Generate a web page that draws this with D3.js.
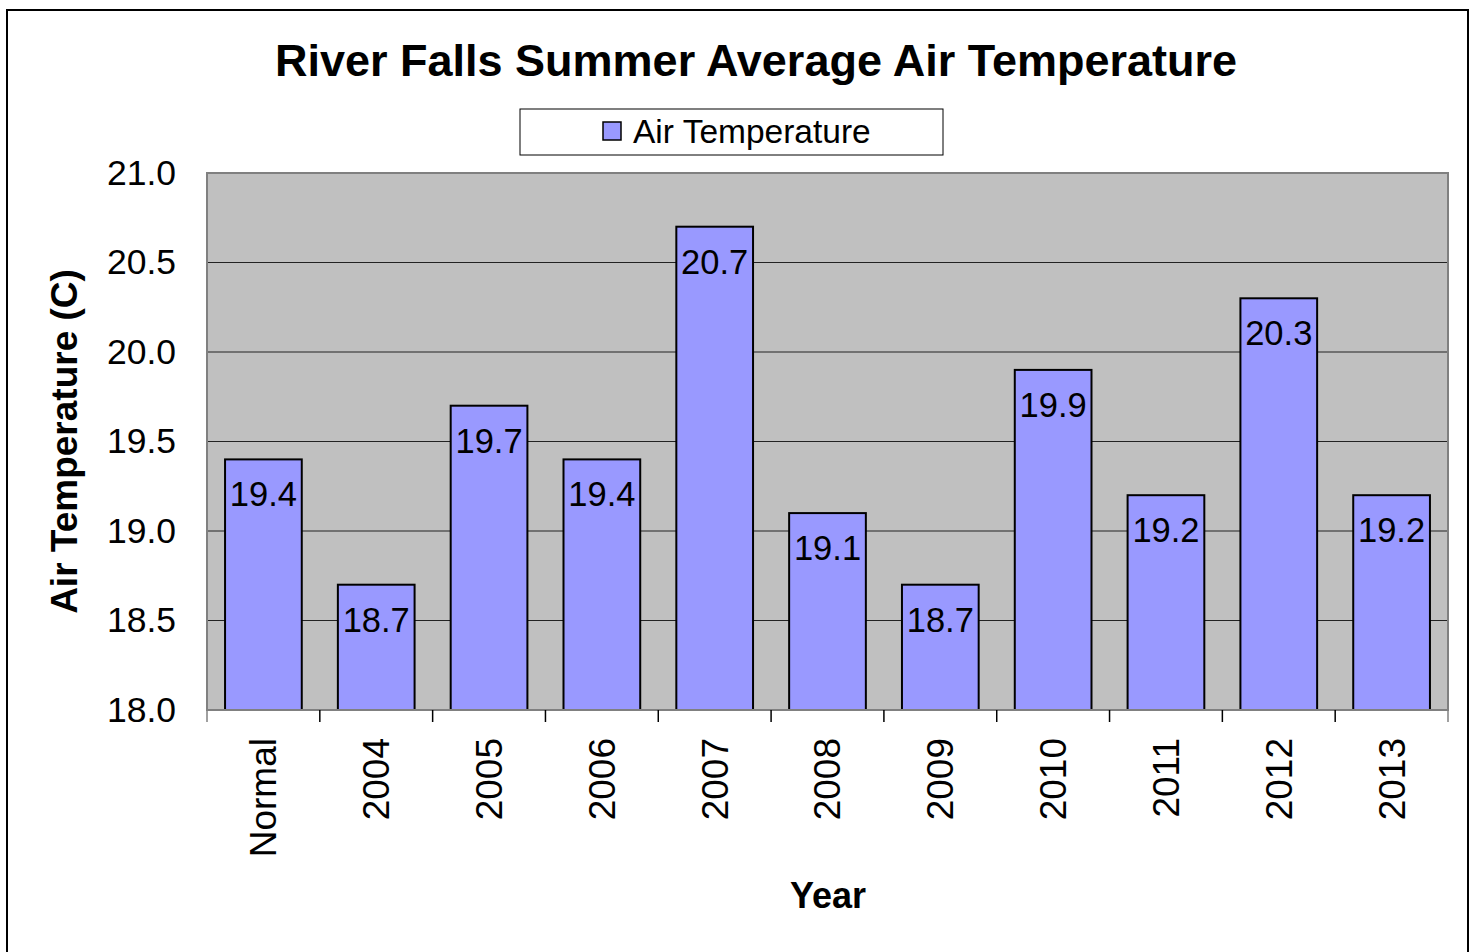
<!DOCTYPE html>
<html>
<head>
<meta charset="utf-8">
<script src="https://cdn.jsdelivr.net/npm/d3@7"></script>
<style>
  body { margin: 0; background: #fff; }
  svg { display: block; font-family: Arial, "Liberation Sans", sans-serif; }
</style>
</head>
<body>
<div id="chart"></div>
<script>
// data
const categories = ["Normal", "2004", "2005", "2006", "2007", "2008", "2009", "2010", "2011", "2012", "2013"]
const airTemp = [19.4, 18.7, 19.7, 19.4, 20.7, 19.1, 18.7, 19.9, 19.2, 20.3, 19.2]
const yTicks = [18.0, 18.5, 19.0, 19.5, 20.0, 20.5, 21.0]

const W = 1477, H = 952
const margin = {top: 173, right: 29, bottom: 242, left: 207}
const width = W - margin.left - margin.right,
      height = H - margin.top - margin.bottom

const svg = d3.select("#chart").append("svg")
    .attr("width", W)
    .attr("height", H)

// outer chart border
svg.append("rect")
    .attr("x", 7).attr("y", 10)
    .attr("width", 1461).attr("height", 960)
    .attr("fill", "#fff")
    .attr("stroke", "#000")
    .attr("stroke-width", 2)

// title
svg.append("text")
    .attr("x", 756).attr("y", 76)
    .attr("text-anchor", "middle")
    .style("font-size", "45px")
    .style("font-weight", "bold")
    .text("River Falls Summer Average Air Temperature")

// legend
const legend = svg.append("g")
legend.append("rect")
    .attr("x", 520).attr("y", 109)
    .attr("width", 423).attr("height", 46)
    .attr("fill", "#fff")
    .attr("stroke", "#000")
    .attr("stroke-width", 1)
legend.append("rect")
    .attr("x", 603).attr("y", 122)
    .attr("width", 18).attr("height", 18)
    .attr("fill", "#9999FF")
    .attr("stroke", "#000")
    .attr("stroke-width", 1.5)
legend.append("text")
    .attr("x", 633).attr("y", 143)
    .style("font-size", "33.5px")
    .text("Air Temperature")

const g = svg.append("g")
    .attr("transform", "translate(" + margin.left + "," + margin.top + ")")

const x = d3.scaleBand()
    .domain(categories)
    .range([0, width])
    .paddingInner(0.32)
    .paddingOuter(0.16)

const y = d3.scaleLinear()
    .domain([18, 21])
    .range([height, 0])

// plot background
g.append("rect")
    .attr("width", width).attr("height", height)
    .attr("fill", "#C0C0C0")

// gridlines
g.selectAll(".grid")
  .data(yTicks.slice(1, -1))
  .enter()
  .append("line")
    .attr("x1", 0).attr("x2", width)
    .attr("y1", d => y(d)).attr("y2", d => y(d))
    .attr("stroke", "#222")
    .attr("stroke-width", 1.2)

// y axis labels
const yAxis = g.append("g")
    .call(d3.axisLeft(y).tickValues(yTicks).tickFormat(d3.format(".1f")).tickSize(0).tickPadding(31))
yAxis.select(".domain").remove()
yAxis.selectAll("text")
    .style("font-size", "35.5px")
    .style("font-family", "Arial, 'Liberation Sans', sans-serif")
    .attr("fill", "#000")

// bars
g.selectAll(".bar")
  .data(airTemp)
  .enter()
  .append("rect")
    .attr("x", (d, i) => x(categories[i]))
    .attr("y", d => y(d))
    .attr("width", x.bandwidth())
    .attr("height", d => height - y(d))
    .attr("fill", "#9999FF")
    .attr("stroke", "#000")
    .attr("stroke-width", 2)

// value labels
g.selectAll(".val")
  .data(airTemp)
  .enter()
  .append("text")
    .attr("x", (d, i) => x(categories[i]) + x.bandwidth() / 2)
    .attr("y", d => y(d) + 47)
    .attr("text-anchor", "middle")
    .style("font-size", "34.5px")
    .text(d => d3.format(".1f")(d))

// plot border
g.append("rect")
    .attr("width", width).attr("height", height)
    .attr("fill", "none")
    .attr("stroke", "#808080")
    .attr("stroke-width", 2)

// x axis ticks at band boundaries
const step = x.step()
g.selectAll(".xtick")
  .data(d3.range(categories.length + 1))
  .enter()
  .append("line")
    .attr("x1", i => i * step).attr("x2", i => i * step)
    .attr("y1", height).attr("y2", height + 12)
    .attr("stroke", i => (i === 0 || i === categories.length) ? "#808080" : "#000")
    .attr("stroke-width", 1.5)

// x tick labels, rotated
g.selectAll(".xlab")
  .data(categories)
  .enter()
  .append("text")
    .attr("transform", d => "translate(" + (x(d) + x.bandwidth() / 2) + "," + (height + 28) + ") rotate(-90)")
    .attr("text-anchor", "end")
    .attr("dy", "0.35em")
    .style("font-size", "37px")
    .text(d => d)

// axis titles
svg.append("text")
    .attr("transform", "translate(77," + (margin.top + height / 2) + ") rotate(-90)")
    .attr("text-anchor", "middle")
    .style("font-size", "37px")
    .style("font-weight", "bold")
    .text("Air Temperature (C)")

svg.append("text")
    .attr("x", 828).attr("y", 908)
    .attr("text-anchor", "middle")
    .style("font-size", "36px")
    .style("font-weight", "bold")
    .text("Year")
</script>
</body>
</html>
